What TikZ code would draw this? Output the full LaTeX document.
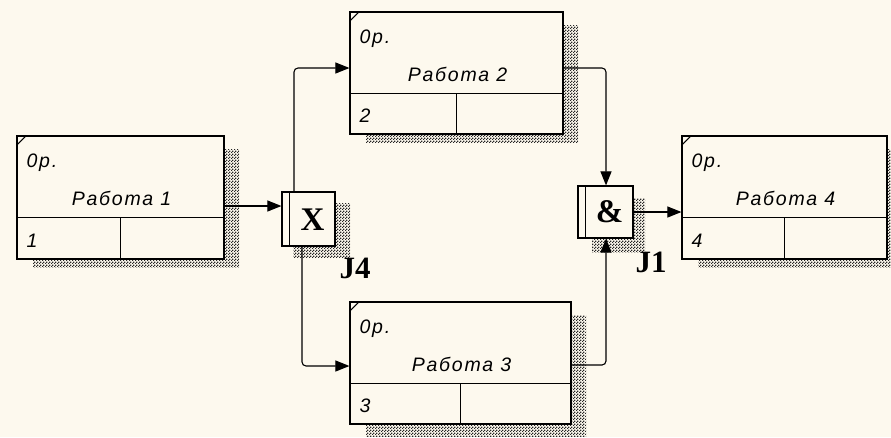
\documentclass[tikz,border=0pt]{standalone}
\usepackage{fontspec}
\setmainfont{Liberation Serif}
\newfontfamily\lblfont[LetterSpace=9]{Liberation Sans}
\usetikzlibrary{arrows.meta,patterns.meta,calc}
\definecolor{bg}{RGB}{253,249,238}
\tikzdeclarepattern{name=shdots, type=uncolored,
  bounding box={(0pt,0pt) and (3pt,3pt)}, tile size={(3pt,3pt)},
  code={\fill (0pt,0pt) rectangle (1.5pt,1.5pt); \fill (1.5pt,1.5pt) rectangle (3pt,3pt);}}
\tikzset{
  uowbox/.style={draw, line width=1.2pt, fill=bg, rectangle, inner sep=0pt},
  jbox/.style={draw, line width=1.2pt, fill=bg, rectangle, inner sep=0pt},
  shadowfill/.style={pattern=shdots, pattern color=black!85},
  lbl/.style={font=\lblfont\itshape\fontsize{19.5}{19.5}\selectfont, inner sep=0pt},
  jsym/.style={font=\bfseries\fontsize{33}{33}\selectfont, inner sep=0pt},
  jlbl/.style={font=\bfseries\fontsize{31}{31}\selectfont, inner sep=0pt},
  conn/.style={line width=1.1pt, -{Triangle[length=14pt,width=11pt]}},
  thin/.style={line width=1.1pt}
}
\newcommand\uowbox[7]{% name, cx, cy, w, h, number, shadow bottom
  \fill[shadowfill] (#2-#4/2+16, #3-#5/2+13) rectangle (#2+#4/2+15, #3+#5/2+#7);
  \node[uowbox, minimum width=#4pt, minimum height=#5pt] (#1) at (#2,#3) {};
  \draw[thin] ($(#1.north west)+(0,10)$) -- ($(#1.north west)+(10,0)$);
  \draw[thin] ($(#1.north west)+(0,82)$) -- ($(#1.north east)+(0,82)$);
  \draw[thin] ($(#1.north)+(0,82)$) -- (#1.south);
  \node[lbl, anchor=west] (#1-op) at ($(#1.north west)+(10,27)$) {0р.};
  \node[lbl] (#1-t) at ($(#1.north)+(1,63)$) {Работа #6};
  \node[lbl, anchor=west] (#1-n) at ($(#1.south west)+(10,-19)$) {#6};
}
\begin{document}
\begin{tikzpicture}[x=1pt,y=-1pt]
\useasboundingbox[fill=bg] (0,0) rectangle (891,437);

\uowbox{box1}{120.5}{197.5}{207}{123}{1}{8}
\uowbox{box2}{456.5}{73}{213}{122}{2}{8}
\uowbox{box3}{460.5}{363}{221}{122}{3}{12}
\uowbox{box4}{784.5}{197.5}{205}{123}{4}{8}

% junction J4
\fill[shadowfill] (282+11,192+11) rectangle (335+15,246+11);
\node[jbox, minimum width=53pt, minimum height=54pt] (j4) at (308.5,219) {};
\draw[thin] ($(j4.north west)+(8,0)$) -- ($(j4.south west)+(8,0)$);
\node[jsym] (j4s) at ($(j4.center)+(4,1)$) {X};
\node[jlbl] (j4l) at (355,268) {J4};

% junction J1
\fill[shadowfill] (578+14,186+12) rectangle (633+12,238+14);
\node[jbox, minimum width=55pt, minimum height=52pt] (j1) at (605.5,212) {};
\draw[thin] ($(j1.north west)+(8,0)$) -- ($(j1.south west)+(8,0)$);
\node[jsym] (j1s) at ($(j1.center)+(4,0)$) {\&};
\node[jlbl] (j1l) at (651,262) {J1};

% connectors
\draw[conn] (box1.east |- 0,206) -- (j4.west |- 0,206);
\draw[conn, rounded corners=4pt] (j4.north -| 294,0) |- (box2.west |- 0,68);
\draw[conn, rounded corners=4pt] (j4.south -| 302,0) |- (box3.west |- 0,366);
\draw[conn, rounded corners=4pt] (box2.east |- 0,68) -| (j1.north -| 606,0);
\draw[conn, rounded corners=4pt] (box3.east |- 0,365) -| (j1.south -| 606,0);
\draw[conn] (j1.east |- 0,212) -- (box4.west |- 0,212);
\end{tikzpicture}
\end{document}
